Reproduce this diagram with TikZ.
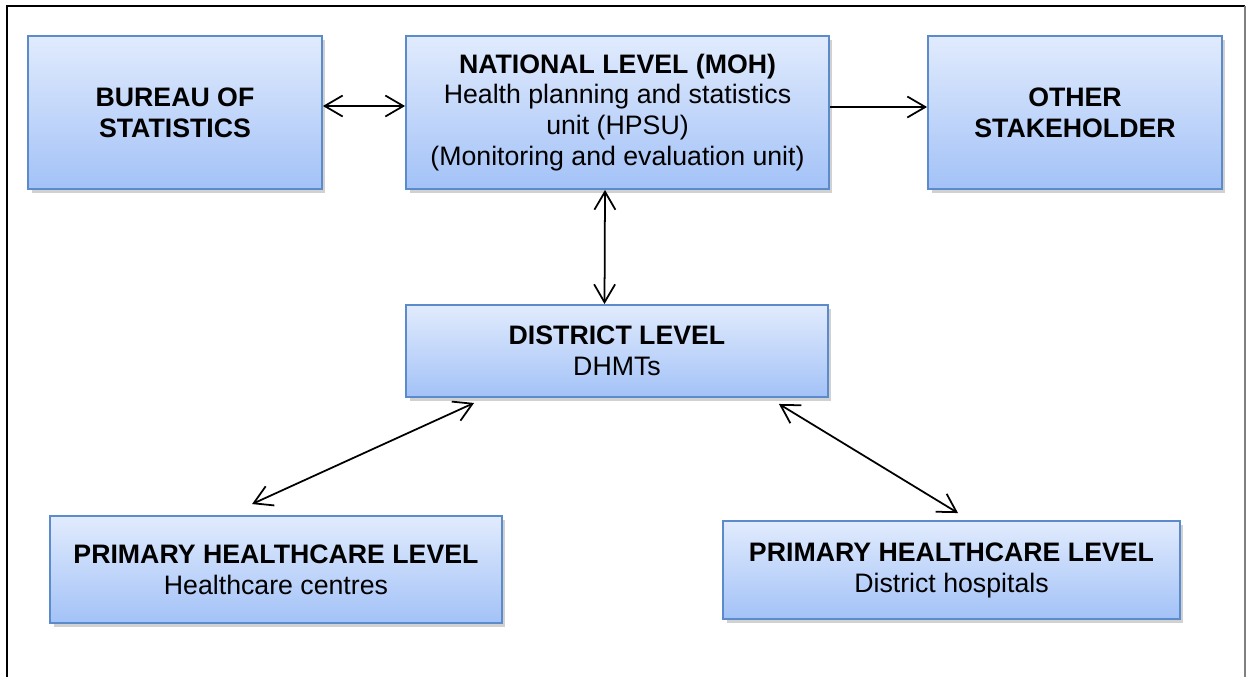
\documentclass[tikz,border=0pt]{standalone}
\usepackage{fontspec}
\setmainfont{Liberation Sans}
\usetikzlibrary{arrows.meta,shadows}

\definecolor{boxtop}{HTML}{E1EBFD}
\definecolor{boxbot}{HTML}{A3C2F7}
\definecolor{boxline}{HTML}{5B8BCB}

\tikzset{
  levelbox/.style={draw=boxline, line width=1.1pt, top color=boxtop, bottom color=boxbot,
    drop shadow={shadow xshift=0.07cm, shadow yshift=-0.08cm, opacity=0.3, fill=black!60},
    align=center, inner sep=0pt, font=\fontsize{15.2}{17.6}\selectfont},
  link/.style={line width=1pt, {Straight Barb[length=0.36cm, width=0.42cm]}-{Straight Barb[length=0.36cm, width=0.42cm]}},
  onelink/.style={line width=1pt, -{Straight Barb[length=0.36cm, width=0.42cm]}}
}

\begin{document}
\begin{tikzpicture}[x=0.02cm, y=-0.02cm]
    \useasboundingbox (0,0) rectangle (1247,677);

    % Rahmen
    \draw[line width=0.9pt] (7,677) -- (7,6) -- (1245,6);
    \draw[gray, line width=0.6pt] (1245,6) -- (1245,677);

    % Oberste Ebene
    \node[levelbox, minimum width=5.88cm, minimum height=3.06cm] (bureau) at (175,112.5)
        {\textbf{BUREAU OF}\\\textbf{STATISTICS}};
    \node[levelbox, minimum width=8.46cm, minimum height=3.06cm] (national) at (617.5,112.5)
        {\textbf{NATIONAL LEVEL (MOH)}\\Health planning and statistics\\unit (HPSU)\\(Monitoring and evaluation unit)};
    \node[levelbox, minimum width=5.88cm, minimum height=3.06cm] (other) at (1075,112.5)
        {\textbf{OTHER}\\\textbf{STAKEHOLDER}};

    % Distrikt
    \node[levelbox, minimum width=8.44cm, minimum height=1.84cm] (district) at (617,351)
        {\textbf{DISTRICT LEVEL}\\DHMTs};

    % Primaere Ebene
    \node[levelbox, minimum width=9.04cm, minimum height=2.14cm] (phcleft) at (276,569.5)
        {\textbf{PRIMARY HEALTHCARE LEVEL}\\Healthcare centres};
    \node[levelbox, minimum width=9.14cm, minimum height=1.96cm] (phcright) at (951.5,570)
        {\textbf{PRIMARY HEALTHCARE LEVEL}\\District hospitals};

    % Pfeile
    \draw[link] ([yshift=0.13cm]bureau.east) -- ([yshift=0.13cm]national.west);
    \draw[onelink] ([yshift=0.11cm]national.east) -- ([yshift=0.11cm]other.west);
    \draw[link] ([xshift=-0.25cm]national.south) -- ([xshift=-0.25cm]district.north);

    \coordinate (dl) at ([xshift=1.38cm, yshift=-0.1cm]district.south west);
    \coordinate (pl) at ([xshift=4.06cm, yshift=0.22cm]phcleft.north west);
    \coordinate (dr) at ([xshift=-1.0cm, yshift=-0.12cm]district.south east);
    \coordinate (pr) at ([xshift=4.72cm, yshift=0.14cm]phcright.north west);
    \draw[link] (dl) -- (pl);
    \draw[link] (dr) -- (pr);

\end{tikzpicture}
\end{document}
